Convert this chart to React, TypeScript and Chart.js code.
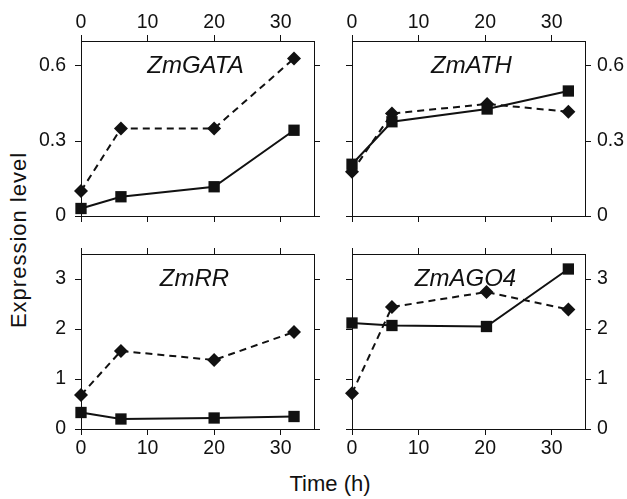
import React, { useEffect, useRef } from "react";
import { Chart, registerables } from "chart.js";

Chart.register(...registerables);

// ---- Data ----
const panelTitles = ["ZmGATA", "ZmATH", "ZmRR", "ZmAGO4"];

const gataTime = [0, 6, 20, 32];
const gataDashed = [0.1, 0.35, 0.35, 0.63];
const gataSolid = [0.03, 0.077, 0.117, 0.343];

const athTime = [0, 6, 20.3, 32.5];
const athDashed = [0.177, 0.41, 0.448, 0.417];
const athSolid = [0.207, 0.377, 0.428, 0.5];

const rrTime = [0, 6, 20, 32];
const rrDashed = [0.68, 1.56, 1.38, 1.94];
const rrSolid = [0.33, 0.2, 0.22, 0.25];

const agoTime = [0, 6, 20.2, 32.5];
const agoDashed = [0.715, 2.44, 2.74, 2.39];
const agoSolid = [2.12, 2.07, 2.05, 3.2];

const xTicks = [0, 10, 20, 30];
const yTicksTop = [0, 0.3, 0.6];
const yTicksBottom = [0, 1, 2, 3];

const xMax = 35;
const yMaxTop = 0.7;
const yMaxBottom = 3.5;

const FONT = '"Liberation Sans", Arial, Helvetica, sans-serif';
const INK = "#111";

const titlePlugin = {
  id: "panelTitle",
  beforeDatasetsDraw(chart: any, _args: any, opts: any) {
    const { ctx, chartArea } = chart;
    ctx.save();
    ctx.font = `italic 24px ${FONT}`;
    ctx.fillStyle = INK;
    ctx.textAlign = "center";
    ctx.textBaseline = "alphabetic";
    ctx.fillText(
      opts.text,
      (chartArea.left + chartArea.right) / 2 + (opts.dx || 0),
      chartArea.top + 32
    );
    ctx.restore();
  },
};

type PanelProps = {
  left: number;
  top: number;
  time: number[];
  dashed: number[];
  solid: number[];
  yMax: number;
  yStep: number;
  yTicks: number[];
  title: string;
  titleDx: number;
  labelsTop: boolean;
  labelsRight: boolean;
};

const ML = 50,
  MR = 45,
  MT = 40,
  MB = 40,
  AW = 233,
  AH = 175;

function Panel(p: PanelProps) {
  const ref = useRef<HTMLCanvasElement | null>(null);
  useEffect(() => {
    if (!ref.current) return;
    const fmt = (v: any) => {
      const n = Math.round(Number(v) * 10) / 10;
      return String(n);
    };
    const grid = {
      drawOnChartArea: false,
      drawTicks: true,
      tickLength: 6,
      color: INK,
      lineWidth: 1,
    };
    const border = { display: true, color: INK, width: 1 };
    const tickFont = { family: FONT, size: 19.5 };
    const xScale = (pos: string, show: boolean, h: number) => ({
      type: "linear",
      position: pos,
      min: 0,
      max: xMax,
      grid,
      border,
      ticks: {
        display: show,
        stepSize: 10,
        includeBounds: false,
        autoSkip: false,
        maxRotation: 0,
        padding: pos === "top" ? 1 : 2,
        color: INK,
        font: tickFont,
        callback: fmt,
      },
      afterBuildTicks: (s: any) => {
        s.ticks = xTicks.map((v) => ({ value: v }));
      },
      afterFit: (s: any) => {
        s.height = h;
      },
    });
    const yScale = (pos: string, show: boolean, w: number) => ({
      type: "linear",
      position: pos,
      min: 0,
      max: p.yMax,
      grid,
      border,
      ticks: {
        display: show,
        stepSize: p.yStep,
        includeBounds: false,
        autoSkip: false,
        padding: pos === "left" ? 9 : 6,
        color: INK,
        font: tickFont,
        callback: fmt,
      },
      afterBuildTicks: (s: any) => {
        s.ticks = p.yTicks.map((v) => ({ value: v }));
      },
      afterFit: (s: any) => {
        s.width = w;
      },
    });
    const pts = (ys: number[]) => p.time.map((x, i) => ({ x, y: ys[i] }));
    const chart = new Chart(ref.current, {
      type: "scatter",
      data: {
        datasets: [
          {
            data: pts(p.solid),
            showLine: true,
            borderColor: INK,
            backgroundColor: INK,
            borderWidth: 2,
            pointStyle: "rect",
            pointRadius: 8,
            pointBorderWidth: 0,
            clip: false,
            xAxisID: "x",
            yAxisID: "y",
          } as any,
          {
            data: pts(p.dashed),
            showLine: true,
            borderColor: INK,
            backgroundColor: INK,
            borderWidth: 2,
            borderDash: [7, 5],
            pointStyle: "rectRot",
            pointRadius: 7,
            pointBorderWidth: 0,
            clip: false,
            xAxisID: "x",
            yAxisID: "y",
          } as any,
        ],
      },
      options: {
        responsive: false,
        animation: false,
        events: [],
        layout: { padding: 0 },
        plugins: {
          legend: { display: false },
          tooltip: { enabled: false },
          panelTitle: { text: p.title, dx: p.titleDx },
        } as any,
        scales: {
          x: xScale("bottom", !p.labelsTop, MB),
          x2: xScale("top", p.labelsTop, MT),
          y: yScale("left", !p.labelsRight, ML),
          y2: yScale("right", p.labelsRight, MR),
        } as any,
      },
      plugins: [titlePlugin],
    });
    return () => chart.destroy();
  }, []);
  const w = AW + ML + MR;
  const h = AH + MT + MB;
  return (
    <canvas
      ref={ref}
      width={w}
      height={h}
      style={{
        position: "absolute",
        left: p.left - ML,
        top: p.top - MT,
        width: w,
        height: h,
      }}
    />
  );
}

export default function App() {
  return (
    <div
      style={{
        position: "fixed",
        left: 0,
        top: 0,
        width: 627,
        height: 499,
        background: "#fff",
        overflow: "hidden",
        fontFamily: FONT,
        color: INK,
      }}
    >
      <Panel
        left={81}
        top={41}
        time={gataTime}
        dashed={gataDashed}
        solid={gataSolid}
        yMax={yMaxTop}
        yStep={0.3}
        yTicks={yTicksTop}
        title={panelTitles[0]}
        titleDx={-2}
        labelsTop={true}
        labelsRight={false}
      />
      <Panel
        left={352}
        top={41}
        time={athTime}
        dashed={athDashed}
        solid={athSolid}
        yMax={yMaxTop}
        yStep={0.3}
        yTicks={yTicksTop}
        title={panelTitles[1]}
        titleDx={3}
        labelsTop={true}
        labelsRight={true}
      />
      <Panel
        left={81}
        top={254}
        time={rrTime}
        dashed={rrDashed}
        solid={rrSolid}
        yMax={yMaxBottom}
        yStep={1}
        yTicks={yTicksBottom}
        title={panelTitles[2]}
        titleDx={-3}
        labelsTop={false}
        labelsRight={false}
      />
      <Panel
        left={352}
        top={254}
        time={agoTime}
        dashed={agoDashed}
        solid={agoSolid}
        yMax={yMaxBottom}
        yStep={1}
        yTicks={yTicksBottom}
        title={panelTitles[3]}
        titleDx={-3}
        labelsTop={false}
        labelsRight={true}
      />
      <div
        style={{
          position: "absolute",
          left: 19 - 120,
          top: 240 - 11,
          width: 240,
          height: 22,
          lineHeight: "22px",
          fontSize: 22,
          letterSpacing: 1,
          textAlign: "center",
          transform: "rotate(-90deg)",
          whiteSpace: "nowrap",
        }}
      >
        Expression level
      </div>
      <div
        style={{
          position: "absolute",
          left: 230,
          top: 473,
          width: 200,
          height: 22,
          lineHeight: "22px",
          fontSize: 22,
          textAlign: "center",
          whiteSpace: "nowrap",
        }}
      >
        Time (h)
      </div>
    </div>
  );
}
